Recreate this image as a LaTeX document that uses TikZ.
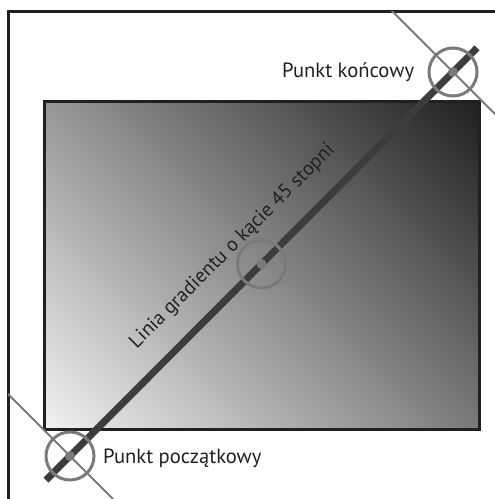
\documentclass[tikz,border=0pt]{standalone}
\usepackage{fontspec}
\setmainfont{PT Sans}
\usetikzlibrary{calc}
\definecolor{framec}{HTML}{231F20}
\definecolor{linec}{HTML}{3C3C3C}
\definecolor{markc}{HTML}{7A7A7A}
\definecolor{lightc}{HTML}{F2F2F2}
\definecolor{darkc}{HTML}{1E1E1E}
\begin{document}
\begin{tikzpicture}[x=1pt,y=-1pt,
  frame/.style={draw=framec,line width=3pt},
  gradline/.style={draw=linec,line width=7pt},
  perp/.style={draw=markc,line width=2pt},
  marker/.style={draw=markc,line width=3pt},
  lbl/.style={font=\fontsize{20.6}{24}\selectfont,text=framec,inner sep=0pt}]
\useasboundingbox (0,0) rectangle (495,499);
\coordinate (A) at (70,456);
\coordinate (B) at (453,72);
\coordinate (M) at (261.5,264);
\begin{scope}
\clip (44,101) rectangle (479,429);
\shade[top color=darkc,bottom color=lightc,shading angle=-45] ($(M)+(-272,-272)$) rectangle ($(M)+(272,272)$);
\end{scope}
\draw[frame] (44,101) rectangle (479,429);
\draw[frame] (8,499) -- (8,11) -- (495,11);
\draw[gradline] ($(A)!-34pt!(B)$) -- ($(B)!-34pt!(A)$);
\begin{scope}
\clip (8,11) rectangle (495,499);
\draw[perp] ($(A)+(-100,-100)$) -- ($(A)+(100,100)$);
\draw[perp] ($(B)+(-100,-100)$) -- ($(B)+(100,100)$);
\end{scope}
\foreach \p in {A,B,M}{
  \draw[marker] (\p) circle[radius=24];
  \fill[markc] (\p) circle[radius=5];
}
\node[lbl,anchor=base west] (endlbl) at (282,77) {Punkt końcowy};
\node[lbl,anchor=base west] (startlbl) at (103,463) {Punkt początkowy};
\node[lbl,anchor=base,rotate=45,text=framec,font=\fontsize{20}{24}\selectfont] (gradlbl) at (236,250) {Linia gradientu o kącie 45 stopni};
\end{tikzpicture}
\end{document}
